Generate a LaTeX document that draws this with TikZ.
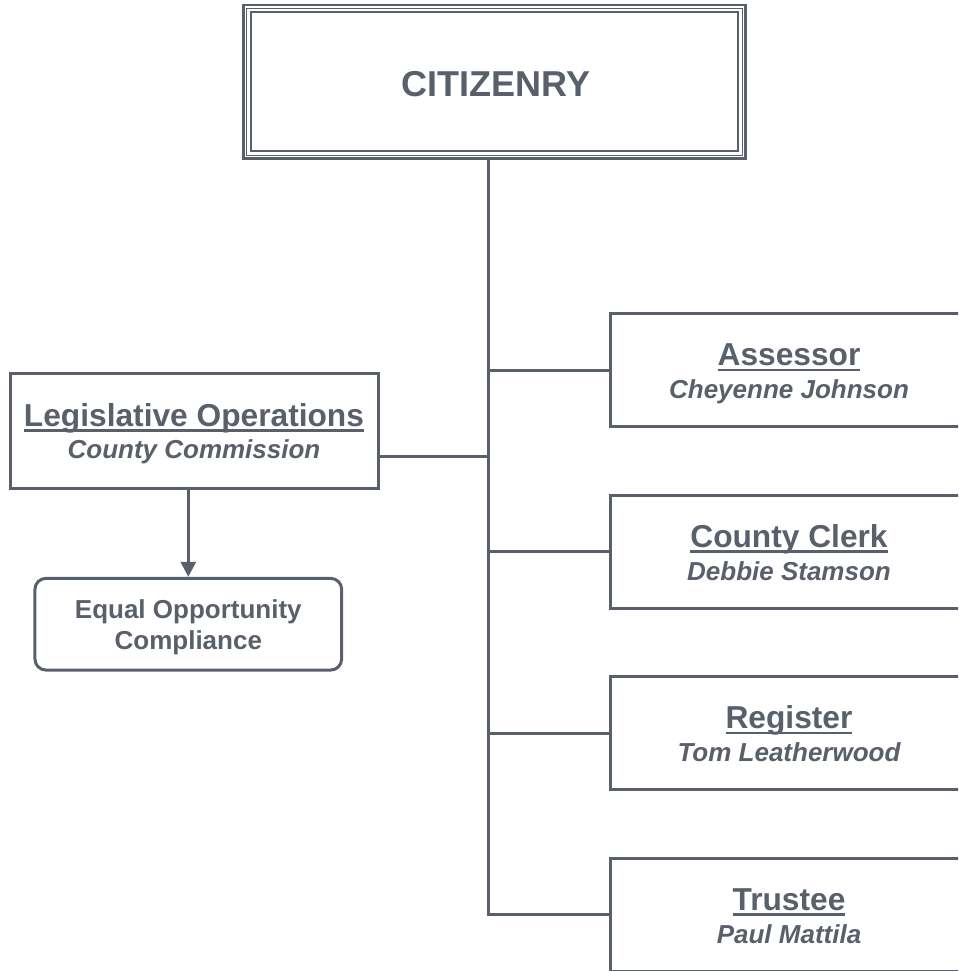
\documentclass[tikz,border=0pt]{standalone}
\usepackage{fontspec}
\setmainfont{Liberation Sans}
\usetikzlibrary{arrows.meta,calc}
\definecolor{ink}{HTML}{5A5F6C}
\newcommand\myul[1]{\leavevmode\setbox0\hbox{#1}\rlap{\raisebox{-5.5pt}{\rule{\wd0}{2.4pt}}}\box0}
\tikzset{
  box/.style={draw, line width=3pt, inner sep=0pt},
  office/.style={box, minimum width=358, minimum height=113},
  ttltext/.style={anchor=base, inner sep=0pt, font=\fontsize{31.7}{34}\selectfont\bfseries},
  subtext/.style={anchor=base, inner sep=0pt, font=\fontsize{26}{30}\selectfont\bfseries\itshape},
  eotext/.style={anchor=base, inner sep=0pt, font=\fontsize{26}{30}\selectfont\bfseries},
  conn/.style={line width=3pt}
}
\begin{document}
\begin{tikzpicture}[x=1pt,y=-1pt,color=ink]
\useasboundingbox (0,0) rectangle (958,971);
\clip (0,0) rectangle (958,971);
% Citizenry
\node[draw, line width=2.6pt, minimum width=502, minimum height=153.5, inner sep=0pt] (cit) at (494.5,81.75) {};
\draw[line width=1.1pt] ($(cit.north west)+(4.6,4.6)$) rectangle ($(cit.south east)+(-4.6,-4.6)$);
\draw[line width=2pt] ($(cit.north west)+(8.6,8.6)$) rectangle ($(cit.south east)+(-8.6,-8.6)$);
\node[anchor=base, inner sep=0pt, font=\fontsize{36}{40}\selectfont\bfseries] (citT) at (496,97) {CITIZENRY};
% Legislative
\node[box, minimum width=368, minimum height=114.5] (leg) at (194,430.75) {};
\node[ttltext] (legT) at ($(leg.center)+(0,-4.5)$) {\myul{Legislative Operations}};
\node[subtext] (legS) at ($(leg.center)+(0,28)$) {County Commission};
\node[box, rounded corners=11pt, minimum width=306.7, minimum height=91.7] (eo) at (188.3,624.2) {};
\node[eotext] (eoT) at ($(eo.center)+(0,-5.7)$) {Equal Opportunity};
\node[eotext] (eoS) at ($(eo.center)+(0,25.6)$) {Compliance};
% offices
\node[office] (ass) at (789,370) {};
\node[ttltext] (assT) at ($(ass.center)+(0,-4.3)$) {\myul{Assessor}};
\node[subtext] (assS) at ($(ass.center)+(0,28.5)$) {Cheyenne Johnson};
\node[office] (clk) at (789,551.5) {};
\node[ttltext] (clkT) at ($(clk.center)+(0,-4.3)$) {\myul{County Clerk}};
\node[subtext] (clkS) at ($(clk.center)+(0,28.5)$) {Debbie Stamson};
\node[office] (reg) at (789,733) {};
\node[ttltext] (regT) at ($(reg.center)+(0,-4.3)$) {\myul{Register}};
\node[subtext] (regS) at ($(reg.center)+(0,28.5)$) {Tom Leatherwood};
\node[office] (tru) at (789,914.5) {};
\node[ttltext] (truT) at ($(tru.center)+(0,-4.3)$) {\myul{Trustee}};
\node[subtext] (truS) at ($(tru.center)+(0,28.5)$) {Paul Mattila};
% connectors
\coordinate (trunk) at (488.5,500);
\coordinate (legout) at ($(leg.east)+(0,26)$);
\draw[conn] (cit.south -| trunk) -- (trunk |- tru.west) -- (tru.west);
\draw[conn] (trunk |- ass.west) -- (ass.west);
\draw[conn] (trunk |- clk.west) -- (clk.west);
\draw[conn] (trunk |- reg.west) -- (reg.west);
\draw[conn] (legout) -- (legout -| trunk);
\draw[conn, -{Triangle[width=15pt,length=15pt]}] (eo.north |- leg.south) -- (eo.north);
\end{tikzpicture}
\end{document}
